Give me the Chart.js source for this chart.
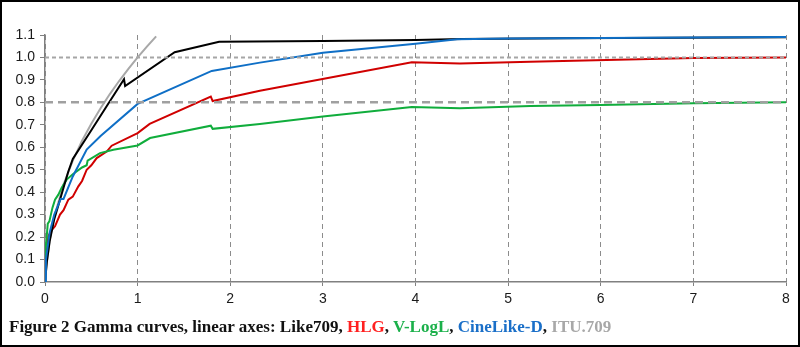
<!DOCTYPE html>
<html>
<head>
<meta charset="utf-8">
<script src="https://cdn.jsdelivr.net/npm/chart.js@4/dist/chart.umd.min.js"></script>
<style>
  html, body { margin: 0; padding: 0; background: #fff; }
  #wrap { position: relative; width: 800px; height: 347px; overflow: hidden; }
  #frame { position: absolute; left: 0; top: 0; width: 800px; height: 347px; box-sizing: border-box;
           border: 2px solid #000; pointer-events: none; }
  #caption { position: absolute; left: 9px; top: 317px; white-space: nowrap; line-height: 1.15;
             font-family: "Liberation Serif", "Times New Roman", serif; font-weight: bold; font-size: 17px; color: #111; }
  .c-like { color: #111; } .c-hlg { color: #ff2020; } .c-vlog { color: #1bb04a; }
  .c-cine { color: #1a6fc8; } .c-itu { color: #a8a8a8; }
</style>
</head>
<body>
<div id="wrap">
  <canvas id="c" width="800" height="347"></canvas>
  <div id="caption">Figure 2 Gamma curves, linear axes: <span class="c-like">Like709</span>, <span class="c-hlg">HLG</span>, <span class="c-vlog">V-LogL</span>, <span class="c-cine">CineLike-D</span>, <span class="c-itu">ITU.709</span></div>
  <div id="frame"></div>
</div>
<script>
// Scene linear light (x) against encoded signal level (y) for each curve
const like709X = [0, 0.02, 0.05, 0.1, 0.15, 0.2, 0.25, 0.3, 0.5, 0.7, 0.853, 0.865, 1.4, 1.88, 3.0, 4.0, 4.5, 5.6, 8];
const like709Y = [0, 0.09, 0.18, 0.28, 0.35, 0.42, 0.49, 0.548, 0.676, 0.805, 0.903, 0.873, 1.023, 1.070, 1.073, 1.078, 1.082, 1.086, 1.09];

const hlgX = [0, 0.01, 0.036, 0.07, 0.108, 0.162, 0.2, 0.252, 0.3, 0.36, 0.4, 0.45, 0.5, 0.558, 0.666, 0.72, 1.0, 1.13, 1.79, 1.81, 2.32, 3.96, 4.48, 5.24, 7.0, 8];
const hlgY = [0.04, 0.1, 0.204, 0.23, 0.248, 0.30, 0.32, 0.367, 0.38, 0.426, 0.45, 0.50, 0.52, 0.552, 0.581, 0.607, 0.663, 0.704, 0.826, 0.806, 0.852, 0.979, 0.973, 0.981, 0.998, 1.0];

const vlogX = [0, 0.005, 0.018, 0.03, 0.047, 0.08, 0.108, 0.144, 0.18, 0.234, 0.3, 0.4, 0.45, 0.46, 0.594, 0.738, 1.0, 1.134, 1.79, 1.81, 2.32, 3.0, 3.96, 4.48, 5.24, 6.0, 7.0, 8];
const vlogY = [0.1, 0.14, 0.2, 0.26, 0.27, 0.33, 0.367, 0.389, 0.42, 0.456, 0.48, 0.51, 0.52, 0.54, 0.574, 0.589, 0.608, 0.641, 0.696, 0.682, 0.704, 0.737, 0.779, 0.774, 0.784, 0.788, 0.796, 0.80];

const cineX = [0, 0.01, 0.05, 0.1, 0.17, 0.2, 0.3, 0.45, 0.6, 1.0, 1.8, 2.32, 3.0, 4.0, 4.45, 5.0, 6.0, 7.0, 8];
const cineY = [0, 0.1, 0.22, 0.3, 0.37, 0.37, 0.47, 0.59, 0.65, 0.793, 0.94, 0.977, 1.021, 1.061, 1.081, 1.084, 1.087, 1.089, 1.091];

const ituX = [0, 0.018, 0.05, 0.1, 0.2, 0.3, 0.4, 0.5, 0.6, 0.7, 0.8, 0.9, 1.0, 1.1, 1.2];
const ituY = [0, 0.081, 0.187, 0.291, 0.434, 0.541, 0.629, 0.705, 0.774, 0.837, 0.895, 0.949, 1.0, 1.048, 1.094];

// Horizontal reference levels
const refX = [0, 8];
const ref100 = [1.0, 1.0];
const ref080 = [0.8, 0.8];

const xTicks = [0, 1, 2, 3, 4, 5, 6, 7, 8];
const yTicks = [0, 0.1, 0.2, 0.3, 0.4, 0.5, 0.6, 0.7, 0.8, 0.9, 1.0, 1.1];

const pts = (xs, ys) => xs.map((x, i) => ({ x, y: ys[i] }));

const line = (label, data, color, extra) => Object.assign({
  label, data, borderColor: color, backgroundColor: color, borderWidth: 2,
  pointRadius: 0, tension: 0, fill: false
}, extra || {});

const tickFont = { family: '"Liberation Sans", Arial, sans-serif', size: 14 };

new Chart(document.getElementById('c'), {
  type: 'line',
  data: {
    datasets: [
      line('1.0', pts(refX, ref100), '#a6a6a6', { borderDash: [4, 3], borderWidth: 2 }),
      line('0.8', pts(refX, ref080), '#a0a0a0', { borderDash: [8, 5], borderWidth: 2.5 }),
      line('CineLike-D', pts(cineX, cineY), '#0f6fc6'),
      line('Like709', pts(like709X, like709Y), '#000000'),
      line('V-LogL', pts(vlogX, vlogY), '#10ad3c'),
      line('HLG', pts(hlgX, hlgY), '#d00000'),
      line('ITU.709', pts(ituX, ituY), '#a8a8a8')
    ]
  },
  options: {
    responsive: false,
    animation: false,
    devicePixelRatio: 1,
    layout: { padding: { left: 0, right: 14, top: 35, bottom: 35 } },
    plugins: { legend: { display: false }, tooltip: { enabled: false } },
    scales: {
      x: {
        type: 'linear', min: 0, max: 8,
        afterBuildTicks: s => { s.ticks = xTicks.map(v => ({ value: v })); },
        afterFit: s => { s.height = 30; },
        grid: { color: '#8c8c8c', lineWidth: 1, drawTicks: true, tickLength: 4, tickColor: '#808080' },
        border: { display: true, color: '#808080', width: 1.5, dash: [5, 4] },
        ticks: { color: '#1a1a1a', padding: 5, font: tickFont, maxRotation: 0 }
      },
      y: {
        type: 'linear', min: 0, max: 1.1,
        afterBuildTicks: s => { s.ticks = yTicks.map(v => ({ value: v })); },
        afterFit: s => { s.width = 45; },
        grid: { drawOnChartArea: false, drawTicks: true, tickLength: 5, color: '#808080' },
        border: { display: true, color: '#808080', width: 1.5 },
        ticks: { color: '#1a1a1a', padding: 5, font: tickFont, callback: v => v.toFixed(1) }
      }
    }
  }
});
</script>
</body>
</html>
